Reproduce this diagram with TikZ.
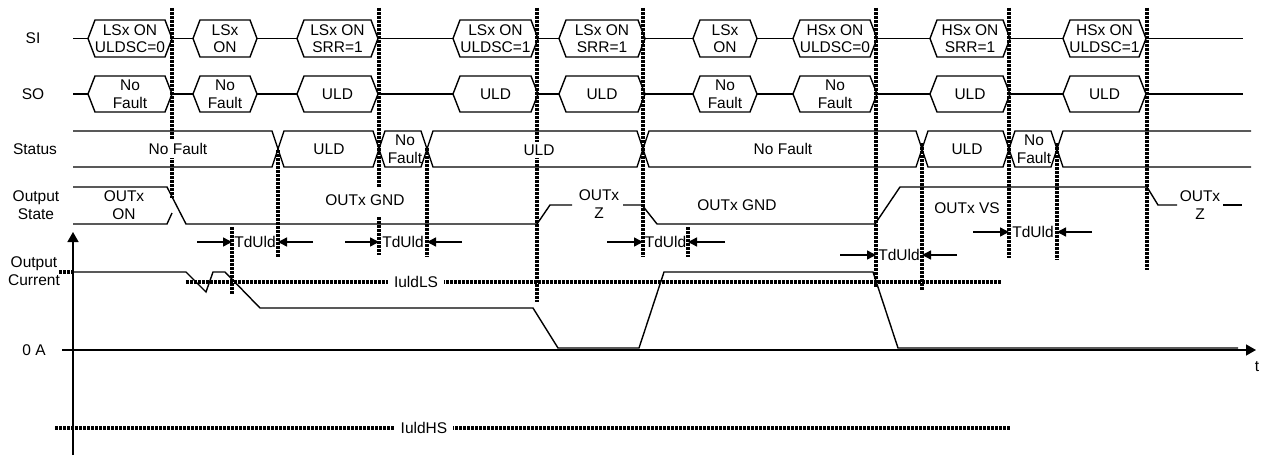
\documentclass[tikz,border=0pt]{standalone}
\usepackage{fontspec}
\setmainfont{Liberation Sans}
\usetikzlibrary{arrows.meta}
\tikzset{
  sig/.style={line width=1.4pt, line join=miter},
  vdot/.style={line width=3.4pt, dash pattern=on 3pt off 1pt},
  lbl/.style={font=\fontsize{15.5}{17.5}\selectfont, align=center, inner sep=0pt},
  wlbl/.style={lbl, fill=white, inner xsep=1pt, inner ysep=3pt},
  tarrow/.style={sig, -{Triangle[length=9pt,width=9pt]}},
  axarrow/.style={sig, -{Triangle[length=10pt,width=11pt]}},
}
% hexagon: x1, x2, yc, half height, bevel
\newcommand\hexsh[5]{%
  \draw[sig,fill=white] (#1,#3) -- ({#1+#5},{#3-#4}) -- ({#2-#5},{#3-#4}) -- (#2,#3)
    -- ({#2-#5},{#3+#4}) -- ({#1+#5},{#3+#4}) -- cycle;}
\begin{document}
\begin{tikzpicture}[x=1pt,y=-1pt]
\useasboundingbox (0,0) rectangle (1262,460);

% ---- bus lines
\draw[sig] (73,38.5) -- (1243,38.5);
\draw[sig] (73,94) -- (1243,94);

% ---- SI boxes
\hexsh{88}{172}{38.5}{18.5}{7}
\hexsh{193}{257}{38.5}{18.5}{7}
\hexsh{297}{378}{38.5}{18.5}{7}
\hexsh{453}{538}{38.5}{18.5}{7}
\hexsh{559}{645}{38.5}{18.5}{7}
\hexsh{693}{757}{38.5}{18.5}{7}
\hexsh{793}{877}{38.5}{18.5}{7}
\hexsh{930}{1010}{38.5}{18.5}{7}
\hexsh{1063}{1146}{38.5}{18.5}{7}
% ---- SO boxes
\hexsh{88}{172}{94}{18}{7}
\hexsh{193}{257}{94}{18}{7}
\hexsh{297}{378}{94}{18}{7}
\hexsh{453}{538}{94}{18}{7}
\hexsh{559}{645}{94}{18}{7}
\hexsh{693}{757}{94}{18}{7}
\hexsh{793}{877}{94}{18}{7}
\hexsh{930}{1010}{94}{18}{7}
\hexsh{1063}{1146}{94}{18}{7}

% ---- Status bus
\draw[sig] (73,131) -- (272,131) -- (278,149) -- (272,167) -- (73,167);
\hexsh{278}{379}{149}{18}{6}
\hexsh{379}{427}{149}{18}{6}
\hexsh{427}{643}{149}{18}{6}
\hexsh{643}{922}{149}{18}{6}
\hexsh{922}{1009}{149}{18}{6}
\hexsh{1009}{1057}{149}{18}{6}
\draw[sig] (1251,131) -- (1063,131) -- (1057,149) -- (1063,167) -- (1251,167);

% ---- Output state
\draw[sig] (73,187) -- (167,187) -- (186,224) -- (537,224) -- (550,205) -- (572,205);
\draw[sig] (73,224) -- (167,224) -- (172,213);
\draw[sig] (623,205) -- (642,205) -- (657,224) -- (875,224) -- (900,187) -- (1147,187)
  -- (1158,205) -- (1177,205);
\draw[sig] (1223,205) -- (1242,205);

% ---- axes
\draw[axarrow] (62,350) -- (1256,350);
\draw[axarrow] (73,455) -- (73,232);

% ---- output current
\draw[sig] (73,272) -- (186,272) -- (206,292) -- (213,272) -- (225,272) -- (260,308)
  -- (533,308) -- (558,348) -- (639,348) -- (664,272) -- (873,272) -- (898,348) -- (1238,348);

% ---- thresholds
\draw[vdot] (59,272) -- (73,272);
\draw[vdot] (186,282) -- (1001,282);
\draw[vdot] (55,428) -- (1010,428);

% ---- vertical markers
\draw[vdot] (172,8) -- (172,198);
\draw[vdot] (232,227) -- (232,295);
\draw[vdot] (278,150) -- (278,257);
\draw[vdot] (379,8) -- (379,187);
\draw[vdot] (379,217) -- (379,255);
\draw[vdot] (427,148) -- (427,257);
\draw[vdot] (537,8) -- (537,302);
\draw[vdot] (643,8) -- (643,257);
\draw[vdot] (688,227) -- (688,257);
\draw[vdot] (876,8) -- (876,287);
\draw[vdot] (922,143) -- (922,290);
\draw[vdot] (1009,8) -- (1009,258);
\draw[vdot] (1057,143) -- (1057,260);
\draw[vdot] (1147,8) -- (1147,270);

% ---- row labels
\node[lbl] (lSI) at (33,38.5) {SI};
\node[lbl] (lSO) at (33,94) {SO};
\node[lbl] (lST) at (35,149) {Status};
\node[lbl] (lOS) at (36,205) {Output\\State};
\node[lbl] (lOC) at (34,271) {Output\\Current};
\node[lbl] (l0A) at (34,350) {0 A};
\node[lbl] (lt) at (1257,367) {t};

% ---- SI texts
\node[lbl] (si1) at (130,38.5) {LSx ON\\ULDSC=0};
\node[lbl] (si2) at (225,38.5) {LSx\\ON};
\node[lbl] (si3) at (337.5,38.5) {LSx ON\\SRR=1};
\node[lbl] (si4) at (495.5,38.5) {LSx ON\\ULDSC=1};
\node[lbl] (si5) at (602,38.5) {LSx ON\\SRR=1};
\node[lbl] (si6) at (725,38.5) {LSx\\ON};
\node[lbl] (si7) at (835,38.5) {HSx ON\\ULDSC=0};
\node[lbl] (si8) at (970,38.5) {HSx ON\\SRR=1};
\node[lbl] (si9) at (1104.5,38.5) {HSx ON\\ULDSC=1};
% ---- SO texts
\node[lbl] (so1) at (130,94) {No\\Fault};
\node[lbl] (so2) at (225,94) {No\\Fault};
\node[lbl] (so3) at (337.5,94) {ULD};
\node[lbl] (so4) at (495.5,94) {ULD};
\node[lbl] (so5) at (602,94) {ULD};
\node[lbl] (so6) at (725,94) {No\\Fault};
\node[lbl] (so7) at (835,94) {No\\Fault};
\node[lbl] (so8) at (970,94) {ULD};
\node[lbl] (so9) at (1104.5,94) {ULD};
% ---- Status texts
\node[wlbl] (st1) at (178,149) {No Fault};
\node[lbl] (st2) at (329,149) {ULD};
\node[lbl] (st3) at (405,149) {No\\Fault};
\node[wlbl] (st4) at (539,150) {ULD};
\node[lbl] (st5) at (783,149) {No Fault};
\node[lbl] (st6) at (967,149) {ULD};
\node[lbl] (st7) at (1034,149) {No\\Fault};
% ---- Output state texts
\node[lbl] (os1) at (124,205) {OUTx\\ON};
\node[lbl] (os2) at (365,200) {OUTx GND};
\node[lbl] (os3) at (599,204) {OUTx\\Z};
\node[lbl] (os4) at (737,205) {OUTx GND};
\node[lbl] (os5) at (967,208) {OUTx VS};
\node[lbl] (os6) at (1200,205) {OUTx\\Z};
% ---- threshold labels
\node[lbl, fill=white, inner xsep=6pt, inner ysep=2pt] (ils) at (416,282) {IuldLS};
\node[lbl, fill=white, inner xsep=6pt, inner ysep=2pt] (ihs) at (424,428) {IuldHS};

% ---- TdUld annotations
\draw[tarrow] (197,242) -- (232,242);
\draw[tarrow] (313,242) -- (278,242);
\node[lbl] (td1) at (255,242) {TdUld};
\draw[tarrow] (345,242) -- (379,242);
\draw[tarrow] (462,242) -- (427,242);
\node[lbl] (td2) at (403,242) {TdUld};
\draw[tarrow] (607,242) -- (643,242);
\draw[tarrow] (725,242) -- (688,242);
\node[lbl] (td3) at (665.5,242) {TdUld};
\draw[tarrow] (840,255) -- (876,255);
\draw[tarrow] (957,255) -- (922,255);
\node[lbl] (td4) at (899,255) {TdUld};
\draw[tarrow] (973,232) -- (1009,232);
\draw[tarrow] (1092,232) -- (1057,232);
\node[lbl] (td5) at (1033,232) {TdUld};
\end{tikzpicture}
\end{document}
